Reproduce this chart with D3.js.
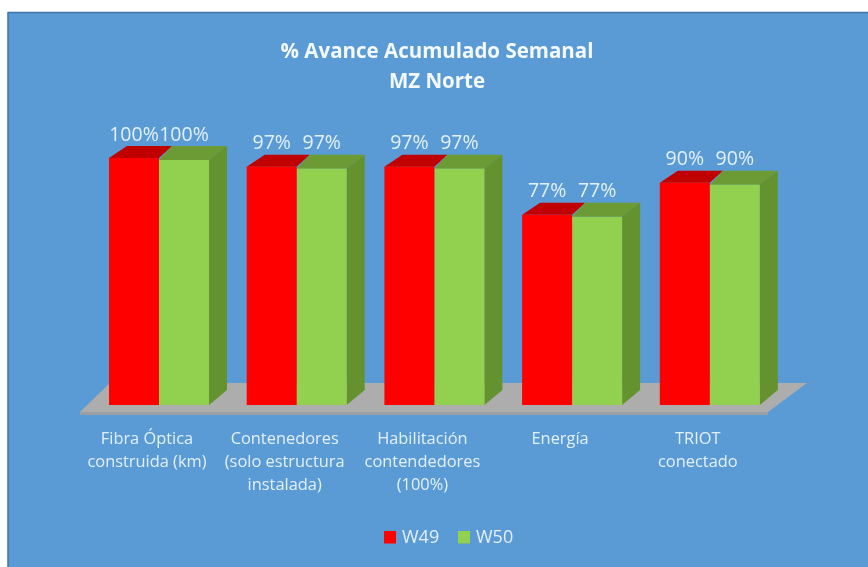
<!DOCTYPE html>
<html><head><meta charset="utf-8">
<script src="https://cdn.jsdelivr.net/npm/d3@7"></script>
<style>html,body{margin:0;padding:0;background:#fff}svg{display:block}text{font-family:"Open Sans",sans-serif}</style>
</head><body><svg id="c" width="868" height="567"></svg>
<script>
const categories=[["Fibra Óptica","construida (km)"],["Contenedores","(solo estructura","instalada)"],["Habilitación","contendedores","(100%)"],["Energía"],["TRIOT","conectado"]];
const seriesNames=["W49","W50"];
const w49=[100,96.5,96.5,77,90];
const w50=[100,96.5,96.5,77,90];
const w49Labels=["100%","97%","97%","77%","90%"];
const w50Labels=["100%","97%","97%","77%","90%"];
const titleLines=["% Avance Acumulado Semanal","MZ Norte"];
const colors={W49:{front:"#ff0000",top:"#c00000"},W50:{front:"#92d050",top:"#6c9a36",side:"#64922f"}};

const svg=d3.select("#c");
const defs=svg.append("defs");
defs.append("filter").attr("id","soft").append("feGaussianBlur").attr("stdDeviation",0.5);
defs.append("filter").attr("id","softm").append("feGaussianBlur").attr("stdDeviation",0.4);

svg.append("rect").attr("x",8).attr("y",12).attr("width",860).attr("height",555).attr("fill","#5b9bd5");
svg.append("path").attr("d","M8,567V12.5H868").attr("fill","none").attr("stroke","#3f76ab").attr("stroke-width",1.5);

const dx=18,dy=12,greenInset=2;
const x0=d3.scaleBand().domain(d3.range(categories.length)).range([90.15,778.65]).paddingInner(0.2738).paddingOuter(0.1369);
const xs=d3.scaleBand().domain(seriesNames).range([0,x0.bandwidth()]);
const y=d3.scaleLinear().domain([0,100]).range([405,158]);

const marks=svg.append("g").attr("filter","url(#softm)");
marks.append("path").attr("d","M80,412 L110,383 H807 L768,412Z").attr("fill","#adadad");
marks.append("path").attr("d","M80,412 H768 V415 H80Z").attr("fill","#9a9fa6");

const groups=marks.append("g").selectAll("g").data(categories).join("g")
 .attr("transform",(d,i)=>`translate(${x0(i)},0)`);
groups.each(function(_,i){
  const g=d3.select(this);
  const w=xs.bandwidth(),b=y(0);
  const rx=xs("W49"),rt=y(w49[i]);
  const gx=xs("W50"),gv=y(w50[i]),gt=gv+greenInset,back=gv-dy;
  g.append("path").attr("d",`M${rx},${rt} L${rx+dx},${rt-dy} H${rx+w+dx-5} L${rx+w},${rt}Z`).attr("fill",colors.W49.top);
  g.append("path").attr("d",`M${gx},${gt} L${gx+dx-5},${back} H${gx+w+dx} L${gx+w},${gt}Z`).attr("fill",colors.W50.top);
  g.append("path").attr("d",`M${gx+w},${gt} L${gx+w+dx},${back} V${b-dy-3} L${gx+w},${b}Z`).attr("fill",colors.W50.side);
  g.append("rect").attr("x",gx).attr("y",gt).attr("width",w).attr("height",b-gt).attr("fill",colors.W50.front);
  g.append("rect").attr("x",rx).attr("y",rt).attr("width",w).attr("height",b-rt).attr("fill",colors.W49.front);
});

const txt=svg.append("g").attr("filter","url(#soft)");
const light="#e2f0fb";
txt.selectAll(".l49").data(w49Labels).join("text").attr("text-anchor","middle").attr("font-size",19.5).attr("fill",light)
 .attr("x",(d,i)=>x0(i)+xs("W49")+xs.bandwidth()/2).attr("y",(d,i)=>y(w49[i])-17.5).text(d=>d);
txt.selectAll(".l50").data(w50Labels).join("text").attr("text-anchor","middle").attr("font-size",19.5).attr("fill",light)
 .attr("x",(d,i)=>x0(i)+xs("W50")+xs.bandwidth()/2).attr("y",(d,i)=>y(w50[i])-17.5).text(d=>d);

const ticks=txt.selectAll(".t").data(categories).join("text").attr("text-anchor","middle").attr("font-size",16.4).attr("fill",light);
ticks.selectAll("tspan").data((d,i)=>d.map(s=>({s,i}))).join("tspan")
 .attr("x",d=>x0(d.i)+x0.bandwidth()/2-12).attr("y",(d,j)=>444+j*23).text(d=>d.s);

txt.selectAll(".h").data(titleLines).join("text").attr("text-anchor","middle").attr("x",437).attr("font-size",20.5).attr("font-weight",700).attr("fill","#f4f9fd")
 .attr("y",(d,i)=>58+i*30).text(d=>d);

const lg=[{n:"W49",x:384},{n:"W50",x:458}];
svg.selectAll(".sw").data(lg).join("rect").attr("x",d=>d.x).attr("y",531).attr("width",12).attr("height",12.5).attr("fill",d=>colors[d.n].front).attr("filter","url(#softm)");
txt.selectAll(".lt").data(lg).join("text").attr("x",d=>d.x+18).attr("y",543).attr("font-size",18).attr("fill",light).text(d=>d.n);
</script></body></html>
